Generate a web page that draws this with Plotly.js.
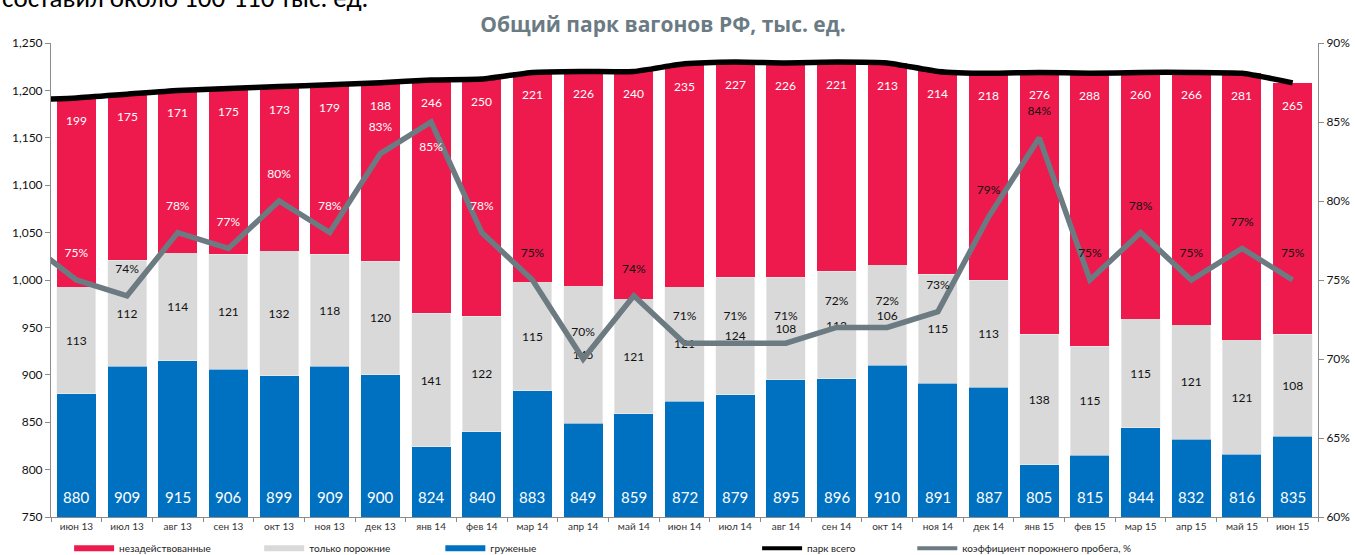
<!DOCTYPE html>
<html>
<head>
<meta charset="utf-8">
<script src="https://cdn.plot.ly/plotly-3.0.1.min.js"></script>
<style>
  html, body { margin: 0; padding: 0; background: #fff; }
  #chart { width: 1355px; height: 555px; }
</style>
</head>
<body>
<div id="chart"></div>
<script>
// ---- data ----
const months = ['июн 13','июл 13','авг 13','сен 13','окт 13','ноя 13','дек 13','янв 14','фев 14','мар 14','апр 14','май 14',
                'июн 14','июл 14','авг 14','сен 14','окт 14','ноя 14','дек 14','янв 15','фев 15','мар 15','апр 15','май 15','июн 15'];
const prevMonth = 'май 13';   // preceding month, only its line segment reaches into the chart
const loaded   = [880,909,915,906,899,909,900,824,840,883,849,859,872,879,895,896,910,891,887,805,815,844,832,816,835];
const emptyOnly= [113,112,114,121,132,118,120,141,122,115,145,121,121,124,108,113,106,115,113,138,115,115,121,121,108];
const idle     = [199,175,171,175,173,179,188,246,250,221,226,240,235,227,226,221,213,214,218,276,288,260,266,281,265];
const parkTotal= [1192,1196,1200,1202,1204,1206,1208,1211,1212,1219,1220,1220,1228,1230,1229,1230,1229,1220,1218,1219,1218,1219,1219,1218,1208];
const parkPrev = 1190;
const emptyRunPct = [75,74,78,77,80,78,83,85,78,75,70,74,71,71,71,72,72,73,79,84,75,78,75,77,75];
const emptyRunPrev = 77.5;

const seriesNames = ['незадействованные','только порожние','груженые','парк всего','коэффициент порожнего пробега, %'];
const title = 'Общий парк вагонов РФ, тыс. ед.';
const cutText = 'составил около 100-110 тыс. ед.';

// ---- label styling (not data) ----
const whitePctMonths = ['июн 13','авг 13','сен 13','окт 13','ноя 13','дек 13','янв 14','фев 14'];
const belowPctMonths = ['янв 14'];

// ---- styles ----
const C_RED = '#ee1a4d', C_GREY = '#d9d9d9', C_BLUE = '#0070c0', C_LINE = '#6c7a82', C_AX = '#8c8c8c';
const FONT = 'Lato, "Open Sans", sans-serif';
const Y_MIN = 750, Y_MAX = 1250;

const allCats = [prevMonth].concat(months);

const traces = [
  { type: 'bar', x: months, y: loaded, name: seriesNames[2], marker: { color: C_BLUE }, showlegend: false, hoverinfo: 'x+y' },
  { type: 'bar', x: months, y: emptyOnly, name: seriesNames[1], marker: { color: C_GREY, line: { color: '#f2f2f2', width: 0.6 } },
    text: emptyOnly.map(String), textposition: 'inside', insidetextanchor: 'middle', textangle: 0,
    textfont: { family: FONT, size: 12, color: '#111' }, showlegend: false, hoverinfo: 'x+y' },
  { type: 'bar', x: months, y: idle, name: seriesNames[0], marker: { color: C_RED }, showlegend: false, hoverinfo: 'x+y' },
  { type: 'scatter', mode: 'lines', x: allCats, y: [parkPrev].concat(parkTotal), name: seriesNames[3],
    line: { color: '#000', width: 5.5, shape: 'spline', smoothing: 0.5 }, showlegend: false, hoverinfo: 'x+y' },
  { type: 'scatter', mode: 'lines+markers+text', x: allCats, y: [emptyRunPrev].concat(emptyRunPct), yaxis: 'y2', name: seriesNames[4],
    line: { color: C_LINE, width: 5.5 }, marker: { size: 30, color: 'rgba(0,0,0,0)' },
    text: [''].concat(emptyRunPct.map(v => v + '%')),
    textposition: allCats.map(m => belowPctMonths.includes(m) ? 'bottom center' : 'top center'),
    textfont: { family: FONT, size: 12, color: allCats.map(m => whitePctMonths.includes(m) ? '#ffffff' : '#111111') },
    showlegend: false, hoverinfo: 'x+y' },
  // legend entries
  { type: 'scatter', mode: 'lines', x: [null], y: [null], name: seriesNames[0], line: { color: C_RED, width: 6 }, legend: 'legend' },
  { type: 'scatter', mode: 'lines', x: [null], y: [null], name: seriesNames[1], line: { color: C_GREY, width: 6 }, legend: 'legend2' },
  { type: 'scatter', mode: 'lines', x: [null], y: [null], name: seriesNames[2], line: { color: C_BLUE, width: 6 }, legend: 'legend3' },
  { type: 'scatter', mode: 'lines', x: [null], y: [null], name: seriesNames[3], line: { color: '#000', width: 4 }, legend: 'legend4' },
  { type: 'scatter', mode: 'lines', x: [null], y: [null], name: seriesNames[4], line: { color: C_LINE, width: 4 }, legend: 'legend5' }
];

const annotations = [];
months.forEach((m, i) => {
  annotations.push({ x: m, y: Y_MIN, xref: 'x', yref: 'y', text: String(loaded[i]), showarrow: false,
    yanchor: 'bottom', yshift: 9, font: { family: FONT, size: 15, color: '#fff' } });
  annotations.push({ x: m, y: loaded[i] + emptyOnly[i] + idle[i], xref: 'x', yref: 'y', text: String(idle[i]), showarrow: false,
    yanchor: 'top', yshift: -13, font: { family: FONT, size: 12, color: '#fff' } });
});
annotations.push({ x: -51 / 1267, y: 1.057, xref: 'paper', yref: 'paper', xanchor: 'left', yanchor: 'bottom',
  text: cutText, showarrow: false, font: { family: 'Carlito, Lato, sans-serif', size: 27, color: '#000' } });

const legBase = { orientation: 'h', yanchor: 'middle', y: -0.066, xanchor: 'left', bgcolor: 'rgba(0,0,0,0)',
  font: { family: FONT, size: 10, color: '#222' }, itemclick: false, itemdoubleclick: false, itemwidth: 40 };
const legX = [0.0143, 0.1643, 0.3073, 0.5573, 0.6798];

const layout = {
  width: 1355, height: 555,
  margin: { l: 51, r: 37, t: 43, b: 38, autoexpand: false },
  paper_bgcolor: '#fff', plot_bgcolor: '#fff',
  font: { family: FONT, color: '#111' },
  title: { text: '<b>' + title + '</b>', x: 0.483, xref: 'paper', xanchor: 'center', y: 0.955, yref: 'container', yanchor: 'middle',
    font: { family: '"Open Sans", Lato, sans-serif', size: 21, color: '#6b7b84' } },
  barmode: 'stack', bargap: 0.23,
  xaxis: { type: 'category', categoryorder: 'array', categoryarray: allCats, range: [0.5, 25.5],
    tickson: 'boundaries', ticks: 'outside', ticklen: 4, tickcolor: C_AX, showline: true, linecolor: C_AX,
    showgrid: false, zeroline: false, tickfont: { family: FONT, size: 10, color: '#333' }, fixedrange: true },
  yaxis: { range: [Y_MIN, Y_MAX], dtick: 50, tickformat: ',', ticks: 'outside', ticklen: 5, tickcolor: C_AX,
    showline: true, linecolor: C_AX, showgrid: false, zeroline: false, tickfont: { family: FONT, size: 12, color: '#111' } },
  yaxis2: { overlaying: 'y', side: 'right', range: [60, 90], dtick: 5, ticksuffix: '%', ticks: 'outside', ticklen: 5,
    tickcolor: C_AX, showline: true, linecolor: C_AX, showgrid: false, zeroline: false,
    tickfont: { family: FONT, size: 12, color: '#111' } },
  legend: Object.assign({}, legBase, { x: legX[0] }),
  legend2: Object.assign({}, legBase, { x: legX[1] }),
  legend3: Object.assign({}, legBase, { x: legX[2] }),
  legend4: Object.assign({}, legBase, { x: legX[3] }),
  legend5: Object.assign({}, legBase, { x: legX[4] }),
  annotations: annotations,
  showlegend: true
};

Plotly.newPlot('chart', traces, layout, { displayModeBar: false, staticPlot: true });
</script>
</body>
</html>
